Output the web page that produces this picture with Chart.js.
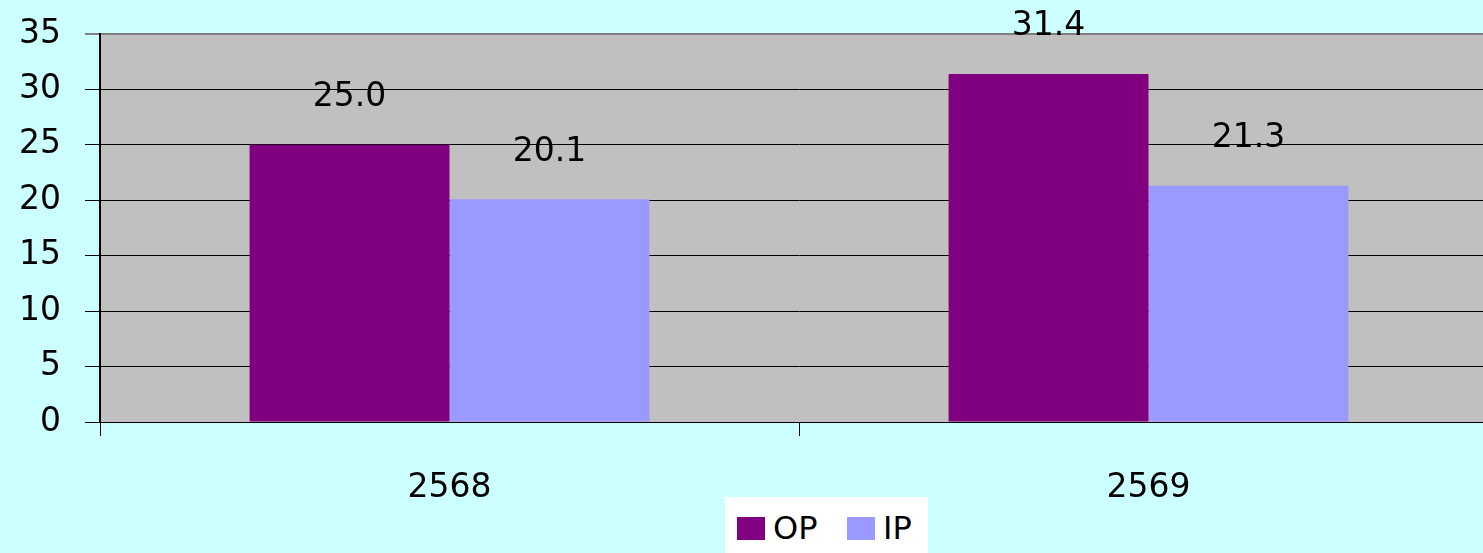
<!DOCTYPE html>
<html>
<head>
<meta charset="utf-8">
<script src="https://cdn.jsdelivr.net/npm/chart.js@4.4.1/dist/chart.umd.min.js"></script>
<style>
  html, body { margin: 0; padding: 0; background: #ccffff; overflow: hidden; }
  #wrap { position: relative; width: 1483px; height: 553px; overflow: hidden; }
  #legend {
    position: absolute; left: 725px; top: 497px; width: 203px; height: 56px;
    background: #ffffff; font-family: "DejaVu Sans", sans-serif; font-size: 32px;
  }
  .item { position: absolute; top: 16px; height: 30px; line-height: 30px; }
  .swatch { position: absolute; top: 4px; width: 28px; height: 23px; }
  .lbl { position: absolute; left: 36px; top: 0; color: #000; white-space: nowrap; }
</style>
</head>
<body>
<div id="wrap">
  <canvas id="chart" width="1500" height="553"></canvas>
  <div id="legend"></div>
</div>
<script>
// values
const categories = ['2568', '2569'];
const seriesNames = ['OP', 'IP'];
const opValues = [25.0, 31.4];
const ipValues = [20.1, 21.3];
const yTicks = [0, 5, 10, 15, 20, 25, 30, 35];

const colors = ['#800080', '#9999ff'];
const font = '"DejaVu Sans", sans-serif';

// grey plot area behind the bars
const plotBg = {
  id: 'plotBg',
  beforeDraw(chart) {
    const { ctx, chartArea: a } = chart;
    ctx.save();
    ctx.fillStyle = '#c0c0c0';
    ctx.fillRect(a.left, a.top, a.right - a.left, a.bottom - a.top);
    ctx.restore();
  }
};

// value labels floating above each bar
const valueLabels = {
  id: 'valueLabels',
  afterDatasetsDraw(chart) {
    const ctx = chart.ctx;
    ctx.save();
    ctx.font = '33px ' + font;
    ctx.fillStyle = '#000';
    ctx.textAlign = 'center';
    ctx.textBaseline = 'middle';
    chart.data.datasets.forEach((ds, i) => {
      chart.getDatasetMeta(i).data.forEach((bar, j) => {
        ctx.fillText(ds.data[j].toFixed(1), bar.x, bar.y - 47);
      });
    });
    ctx.restore();
  }
};

new Chart(document.getElementById('chart'), {
  type: 'bar',
  data: {
    labels: categories,
    datasets: [
      { label: seriesNames[0], data: opValues, backgroundColor: colors[0] },
      { label: seriesNames[1], data: ipValues, backgroundColor: colors[1] }
    ]
  },
  options: {
    responsive: false,
    animation: false,
    layout: { padding: { top: 34, right: 2, left: 0, bottom: 0 } },
    plugins: { legend: { display: false }, tooltip: { enabled: false } },
    datasets: { bar: { barPercentage: 1, categoryPercentage: 0.572 } },
    scales: {
      x: {
        offset: true,
        grid: { display: true, drawOnChartArea: false, offset: true, color: '#000', tickLength: 14 },
        border: { color: '#000', width: 1 },
        ticks: { color: '#000', font: { family: font, size: 33 }, padding: 33 },
        afterFit(scale) { scale.height = 131; scale.paddingLeft = 0; scale.paddingRight = 0; }
      },
      y: {
        min: 0, max: 35,
        afterBuildTicks(scale) { scale.ticks = yTicks.map(v => ({ value: v })); },
        grid: {
          color: ctx => (ctx.tick && ctx.tick.value === 35 ? '#808080' : '#000'),
          lineWidth: ctx => (ctx.tick && ctx.tick.value === 35 ? 2 : 1),
          tickLength: 15
        },
        border: { color: '#000', width: 2 },
        ticks: { color: '#000', font: { family: font, size: 33 }, padding: 24 },
        afterFit(scale) { scale.width = 100; scale.paddingTop = 0; scale.paddingBottom = 0; }
      }
    }
  },
  plugins: [plotBg, valueLabels]
});

// html legend built from the series names
const legend = document.getElementById('legend');
const lefts = [12, 122];
seriesNames.forEach((name, i) => {
  const item = document.createElement('div');
  item.className = 'item';
  item.style.left = lefts[i] + 'px';
  item.innerHTML = '<div class="swatch" style="background:' + colors[i] + '"></div><span class="lbl">' + name + '</span>';
  legend.appendChild(item);
});
</script>
</body>
</html>
